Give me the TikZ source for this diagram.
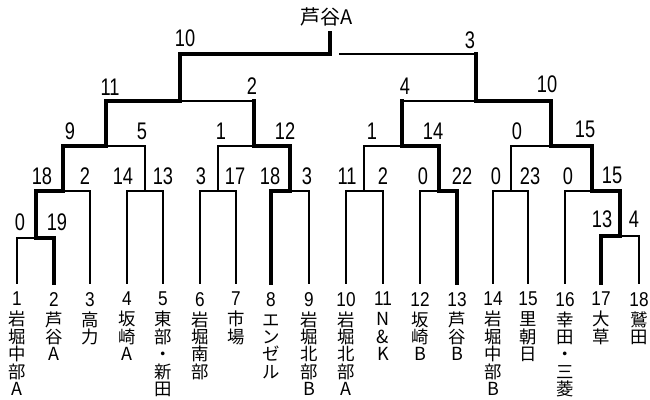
\documentclass[tikz,border=0pt]{standalone}
\usepackage{fontspec}
\newfontfamily\cjk{Noto Sans CJK JP}
\newfontfamily\scorefont[FakeStretch=0.76]{Liberation Sans}
\newfontfamily\numfont[FakeStretch=0.86]{Liberation Sans}
\newcommand\tnum[1]{{\numfont\fontsize{20}{17.4}\selectfont #1}}
\newcommand\lat[1]{{\fontsize{18}{17.4}\selectfont #1}}
\begin{document}
\begin{tikzpicture}[x=1pt,y=-1pt,
  thinl/.style={line width=1.8pt, line cap=rect},
  thickl/.style={line width=4.8pt, line cap=rect, line join=miter},
  score/.style={font=\scorefont\fontsize{24}{24}\selectfont, inner sep=0pt},
  team/.style={anchor=north, align=center, inner sep=0pt, font=\cjk\fontsize{17.4}{17.4}\selectfont},
  champstyle/.style={inner sep=0pt, font=\cjk\fontsize{20}{20}\selectfont}]
\useasboundingbox[fill=white] (0,0) rectangle (650,399);

% team labels
\node[team] (t1)  at (17,292)  {\tnum{1}\\[2.6pt]岩\\堀\\中\\部\\\lat{A}};
\node[team] (t2)  at (54,292)  {\tnum{2}\\[2.6pt]芦\\谷\\\lat{A}};
\node[team] (t3)  at (90,292)  {\tnum{3}\\[2.6pt]高\\力};
\node[team] (t4)  at (127,292) {\tnum{4}\\[2.6pt]坂\\崎\\\lat{A}};
\node[team] (t5)  at (163,292) {\tnum{5}\\[2.6pt]東\\部\\・\\新\\田};
\node[team] (t6)  at (200,292) {\tnum{6}\\[2.6pt]岩\\堀\\南\\部};
\node[team] (t7)  at (236,292) {\tnum{7}\\[2.6pt]市\\場};
\node[team] (t8)  at (271,292) {\tnum{8}\\[2.6pt]エ\\ン\\ゼ\\ル};
\node[team] (t9)  at (309,292) {\tnum{9}\\[2.6pt]岩\\堀\\北\\部\\\lat{B}};
\node[team] (t10) at (346,292) {\tnum{10}\\[2.6pt]岩\\堀\\北\\部\\\lat{A}};
\node[team] (t11) at (383,292) {\tnum{11}\\[2.6pt]\lat{N}\\\lat{\&}\\\lat{K}};
\node[team] (t12) at (420,292) {\tnum{12}\\[2.6pt]坂\\崎\\\lat{B}};
\node[team] (t13) at (457,292) {\tnum{13}\\[2.6pt]芦\\谷\\\lat{B}};
\node[team] (t14) at (493,292) {\tnum{14}\\[2.6pt]岩\\堀\\中\\部\\\lat{B}};
\node[team] (t15) at (528,292) {\tnum{15}\\[2.6pt]里\\朝\\日};
\node[team] (t16) at (565,292) {\tnum{16}\\[2.6pt]幸\\田\\・\\三\\菱};
\node[team] (t17) at (601,292) {\tnum{17}\\[2.6pt]大\\草};
\node[team] (t18) at (639,292) {\tnum{18}\\[2.6pt]鷲\\田};

\foreach \i in {1,...,18} \coordinate (l\i) at ([yshift=9pt]t\i.north);

% match junctions
\coordinate (m12) at (36,238);
\coordinate (m1718) at (620,236);
\coordinate (A) at (63,191);
\coordinate (B) at (145,191);
\coordinate (C) at (218,191);
\coordinate (D) at (290,191);
\coordinate (E) at (364,191);
\coordinate (F) at (439,191);
\coordinate (G) at (511,191);
\coordinate (H) at (592,191);
\coordinate (AB) at (106,146);
\coordinate (CD) at (254,146);
\coordinate (EF) at (402,146);
\coordinate (GH) at (551,146);
\coordinate (L) at (180,101);
\coordinate (R) at (476,101);
\coordinate (Top) at (330,54);
\coordinate (TopR) at (340,54);
\coordinate (TopEnd) at (330,33);

\node[champstyle] (champ) at (327,17) {芦谷A};

% thin connectors
\foreach \a/\b in {l1/m12, l3/A, l4/B, l5/B, B/AB, l6/C, l7/C, C/CD, l9/D,
  l10/E, l11/E, E/EF, l12/F, l14/G, l15/G, G/GH, l16/H, l18/m1718}
  \draw[thinl] (\a) |- (\b);
\draw[thinl] (CD |- L) -- (L);
\draw[thinl] (EF |- R) -- (R);
\draw[thinl] (R |- TopR) -- (TopR);

% thick paths
\draw[thickl] (l2) |- (m12) |- (A) |- (AB) |- (L) |- (Top) -- (TopEnd);
\draw[thickl] (l8) |- (D) |- (CD) -- (CD |- L);
\draw[thickl] (l13) |- (F) |- (EF) -- (EF |- R);
\draw[thickl] (l17) |- (m1718) |- (H) |- (GH) |- (R) -- (R |- TopR);

% scores
\node[score] (s1)  at (20,222) {0};
\node[score] (s2)  at (57,222) {19};
\node[score] (s3)  at (602,219) {13};
\node[score] (s4)  at (634,219) {4};
\node[score] (s5)  at (42,176) {18};
\node[score] (s6)  at (85,176) {2};
\node[score] (s7)  at (123,176) {14};
\node[score] (s8)  at (163,176) {13};
\node[score] (s9)  at (201,176) {3};
\node[score] (s10) at (235,176) {17};
\node[score] (s11) at (270,176) {18};
\node[score] (s12) at (307,176) {3};
\node[score] (s13) at (347,176) {11};
\node[score] (s14) at (383,176) {2};
\node[score] (s15) at (423,176) {0};
\node[score] (s16) at (462,176) {22};
\node[score] (s17) at (496,176) {0};
\node[score] (s18) at (530,176) {23};
\node[score] (s19) at (568,176) {0};
\node[score] (s20) at (612,175) {15};
\node[score] (s21) at (70,131) {9};
\node[score] (s22) at (142,131) {5};
\node[score] (s23) at (221,131) {1};
\node[score] (s24) at (285,131) {12};
\node[score] (s25) at (372,131) {1};
\node[score] (s26) at (433,131) {14};
\node[score] (s27) at (517,131) {0};
\node[score] (s28) at (585,129) {15};
\node[score] (s29) at (110,87) {11};
\node[score] (s30) at (252,86) {2};
\node[score] (s31) at (405,86) {4};
\node[score] (s32) at (547,84) {10};
\node[score] (s33) at (185,38) {10};
\node[score] (s34) at (470,40) {3};
\end{tikzpicture}
\end{document}
